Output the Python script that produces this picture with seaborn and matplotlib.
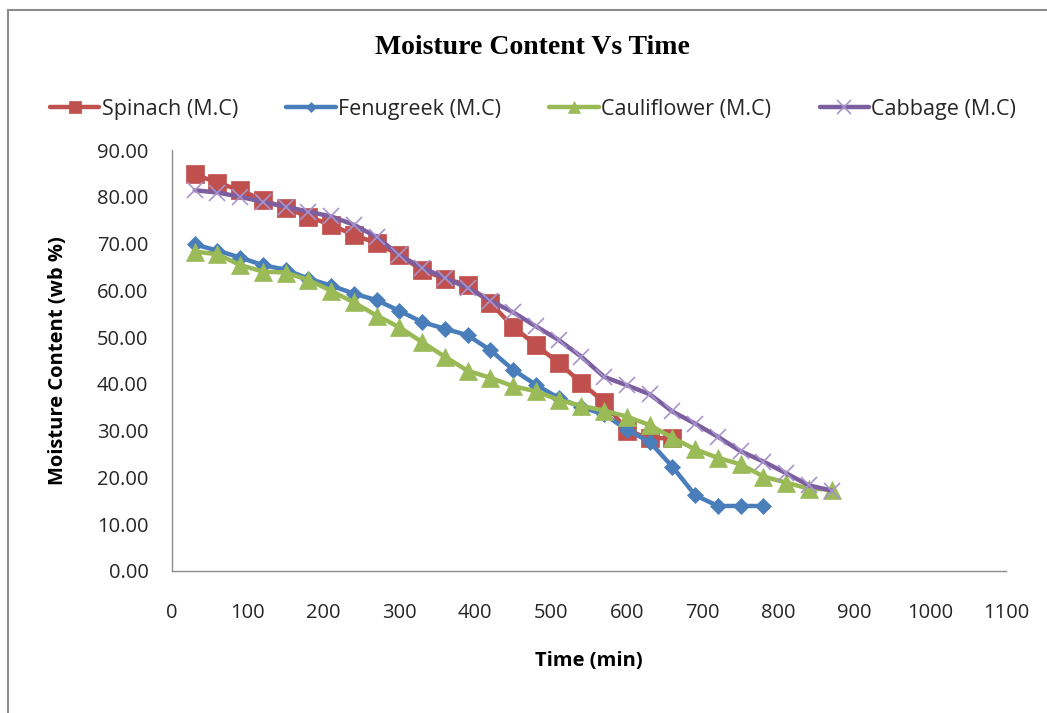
import numpy as np
import pandas as pd
import matplotlib
matplotlib.use("Agg")
import matplotlib.pyplot as plt
from matplotlib.lines import Line2D
from matplotlib.patches import Rectangle
import seaborn as sns

# Drying time (min), sampled every 30 minutes
spinach_time = [30, 60, 90, 120, 150, 180, 210, 240, 270, 300, 330, 360, 390,
                420, 450, 480, 510, 540, 570, 600, 630, 660]
spinach_mc = [84.8, 83.0, 81.4, 79.3, 77.6, 75.7, 74.0, 71.8, 70.1, 67.5, 64.3,
              62.5, 61.1, 57.3, 52.2, 48.3, 44.5, 40.2, 36.1, 30.0, 28.4, 28.4]

fenugreek_time = [30, 60, 90, 120, 150, 180, 210, 240, 270, 300, 330, 360, 390,
                  420, 450, 480, 510, 540, 570, 600, 630, 660, 690, 720, 750, 780]
fenugreek_mc = [69.8, 68.5, 67.0, 65.4, 64.4, 62.5, 61.0, 59.3, 57.9, 55.6, 53.2,
                51.8, 50.4, 47.2, 43.0, 39.8, 37.0, 35.0, 33.5, 30.2, 27.6, 22.3,
                16.2, 13.9, 13.9, 13.9]

cauliflower_time = [30, 60, 90, 120, 150, 180, 210, 240, 270, 300, 330, 360, 390,
                    420, 450, 480, 510, 540, 570, 600, 630, 660, 690, 720, 750,
                    780, 810, 840, 870]
cauliflower_mc = [68.3, 67.7, 65.4, 64.0, 63.8, 62.2, 59.9, 57.4, 54.6, 52.1, 48.9,
                  45.8, 42.8, 41.3, 39.5, 38.4, 36.6, 35.3, 34.3, 33.0, 31.2, 28.5,
                  26.0, 24.2, 22.8, 20.2, 18.9, 17.6, 17.4]

cabbage_time = cauliflower_time
cabbage_mc = [81.4, 80.9, 80.0, 78.9, 77.9, 76.8, 75.8, 74.0, 71.4, 67.5, 64.8,
              62.7, 60.5, 57.8, 55.3, 52.3, 49.4, 45.8, 41.5, 39.7, 37.8, 34.1,
              31.5, 28.7, 25.6, 23.4, 20.9, 18.3, 17.2]

series_names = ["Spinach (M.C)", "Fenugreek (M.C)", "Cauliflower (M.C)", "Cabbage (M.C)"]
x_ticks = [0, 100, 200, 300, 400, 500, 600, 700, 800, 900, 1000, 1100]
y_ticks = [0, 10, 20, 30, 40, 50, 60, 70, 80, 90]

sns.set_style("white")
plt.rcParams["font.family"] = ["Open Sans", "DejaVu Sans"]

fig = plt.figure(figsize=(10.47, 7.13), dpi=100)
fig.patch.set_facecolor("white")
W, H = 1047, 713
ax = fig.add_axes([172 / W, 1 - 571 / H, (1006 - 172) / W, (571 - 150) / H])

styles = [
    dict(color="#C0504D", marker="s", markersize=13.5, mfc="#C0504D", mec="#C0504D", mew=0.5),
    dict(color="#4A7EBB", marker="D", markersize=8, mfc="#4A7EBB", mec="#4A7EBB", mew=0.5),
    dict(color="#98B954", marker="^", markersize=13, mfc="#9BBB59", mec="#9BBB59", mew=0.5),
    dict(color="#7D5FA0", marker="x", markersize=11.5, mfc="none", mec="#A894CC", mew=1.2),
]
data = [
    (spinach_time, spinach_mc),
    (fenugreek_time, fenugreek_mc),
    (cauliflower_time, cauliflower_mc),
    (cabbage_time, cabbage_mc),
]

for z, (name, (t, mc), st) in enumerate(zip(series_names, data, styles)):
    df = pd.DataFrame({"Time (min)": t, "Moisture": mc})
    sns.lineplot(data=df, x="Time (min)", y="Moisture", ax=ax, linewidth=3.2,
                 color=st["color"], marker=st["marker"], markersize=st["markersize"],
                 markerfacecolor=st["mfc"], markeredgecolor=st["mec"],
                 markeredgewidth=st["mew"], zorder=3 + z, legend=False)

ax.set_xlim(0, 1100)
ax.set_ylim(0, 90)
ax.set_xticks(x_ticks)
ax.set_yticks(y_ticks)
ax.set_yticklabels([f"{v:.2f}" for v in y_ticks])

for side in ["top", "right"]:
    ax.spines[side].set_visible(False)
for side in ["left", "bottom"]:
    ax.spines[side].set_color("#8C8C8C")
    ax.spines[side].set_linewidth(1.0)

ax.tick_params(axis="both", which="major", direction="out", length=6, width=1.0,
               color="#8C8C8C", labelsize=14.5, labelcolor="#262626")
ax.tick_params(axis="x", pad=17)
ax.tick_params(axis="y", pad=11)

ax.set_xlabel("Time (min)", fontsize=14.5, fontweight="bold", color="#000000")
ax.xaxis.set_label_coords(0.5, (571 - 661) / 421)
ax.xaxis.label.set_va("center")
ax.set_ylabel("Moisture Content (wb %)", fontsize=14.5, fontweight="bold", color="#000000")
ax.yaxis.set_label_coords((58 - 172) / 834, 0.5)
ax.yaxis.label.set_va("center")
ax.yaxis.label.set_ha("center")
ax.yaxis.label.set_rotation_mode("anchor")

fig.text(532 / W, 1 - 47 / H, "Moisture Content Vs Time", ha="center", va="center",
         fontsize=20, fontweight="bold", family="Liberation Serif", color="#000000")

# Legend with compact markers across the top
legend_styles = [
    dict(marker="s", markersize=9),
    dict(marker="D", markersize=5.5),
    dict(marker="^", markersize=9),
    dict(marker="x", markersize=10),
]
handles = []
for st, ls in zip(styles, legend_styles):
    handles.append(Line2D([0], [0], color=st["color"], linewidth=3.2,
                          marker=ls["marker"], markersize=ls["markersize"],
                          markerfacecolor=st["mfc"], markeredgecolor=st["mec"],
                          markeredgewidth=st["mew"]))
fig.legend(handles, series_names, loc="center", bbox_to_anchor=(533 / W, 1 - 109 / H),
           ncol=4, frameon=False, fontsize=15.5, handlelength=2.3, handletextpad=0.1,
           columnspacing=2.25, borderaxespad=0, labelcolor="#262626")

# Outer chart border
fig.add_artist(Rectangle((8 / W, -0.05), 1.1, 1 - 10 / H + 0.05,
                         transform=fig.transFigure, fill=False,
                         edgecolor="#8C8C8C", linewidth=1.5, clip_on=False))

fig.savefig("out.png", dpi=100, facecolor="white")
